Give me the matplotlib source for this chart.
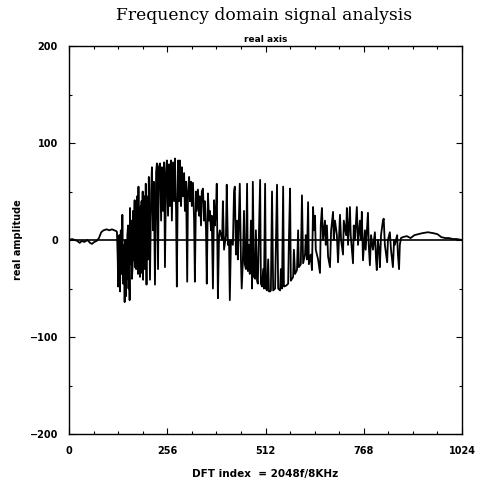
import matplotlib
matplotlib.use("Agg")
import matplotlib.pyplot as plt
from matplotlib.ticker import MultipleLocator

# ---- data (vertices) ----
dft_index = [
    0, 8, 15, 22, 28, 33, 40, 48, 55, 60, 66, 72, 78, 84, 90, 98, 105, 112, 118, 124,
    125, 127, 128, 129, 130, 131, 133, 134, 135, 136, 138, 139, 141, 142, 143, 145, 146, 147,
    148, 150, 151, 152, 154, 155, 156, 158, 159, 160, 162, 163, 164, 166, 167, 168, 169, 171,
    172, 174, 175, 176, 177, 179, 180, 181, 182, 184, 185, 187, 188, 189, 190, 192, 193, 194,
    195, 197, 198, 200, 201, 202, 203, 206, 208, 211, 214, 216,
    219, 221, 224, 227, 229, 232, 234, 237,
    240, 242, 245, 248, 250, 253, 255, 258, 261, 263, 266, 268, 271, 274, 276, 279, 281, 284,
    287, 289, 292, 294, 297, 300, 302, 305, 308, 310, 313, 315, 318, 320, 323, 326, 328, 331,
    333, 336, 339, 341, 344, 346, 349, 352, 354, 357, 359, 362, 365, 367, 370, 372, 375, 378,
    380, 383, 385, 388,
    391, 393, 399, 401, 404, 409, 411, 414, 417, 419, 422, 427, 430, 432, 435, 438, 440, 445,
    448, 450, 453, 456, 458, 461, 464, 466, 469, 471, 474, 477, 479, 482, 485, 487, 490, 492,
    498, 500, 503, 506, 508, 511, 513, 516, 519, 521, 524,
    526, 529, 532, 537, 542, 545, 550, 552, 555, 558, 560, 566, 571, 573, 576, 578, 584, 586,
    589, 594, 597, 599, 604, 607, 610, 615, 617, 620, 623, 625, 630, 633, 636, 638, 641, 643,
    649, 654, 656, 659, 662, 667, 669, 672, 675,
    680, 683, 688, 690, 693, 698, 701, 706, 709, 714, 716, 722, 724, 727, 732, 734, 740, 742,
    745, 750, 753, 758, 761, 763, 766, 771, 773, 779, 781, 784, 787, 792, 797, 800, 802, 805,
    808, 810, 813, 818, 820, 823, 829, 831, 836, 839, 844, 847, 849, 855, 857, 860, 862, 865,
    870, 880, 890, 900, 910, 920, 935, 950, 960, 970, 980, 990, 1000, 1010, 1024,
]
real_amplitude = [
    0, 1, 0, -1, -3, -1, -2, 0, -3, -4, -2, -1, 2, 8, 10, 11, 10, 11, 10, 9,
    8, -20, -48, 0, -40, 5, -53, -10, 10, -35, -20, 26, -45, -15, -5, -64, -30, 0,
    -58, -10, -40, 5, 15, -50, -5, -62, 33, -25, -10, 20, -40, -25, 30, -15, -21, 41,
    -28, 20, -30, -10, 45, -15, -35, 55, -20, 25, -38, 35, -34, 40, -10, 50, -41, 10,
    -20, 45, -30, 58, 0, -46, 45, -20, 65, -41, 50, 75,
    10, 60, -46, 70, 79, -30, 75, 79,
    20, 75, 30, 80, -28, 70, 82, 25, 78, 35, 82, 20, 80, 40, 84, 30, -48, 82,
    40, 82, 35, 75, 45, 69, 30, 60, -43, 50, 65, 40, 60, 35, 59, 20, -43, 50,
    30, 52, 25, 45, 15, 50, 53, 20, 40, 10, -45, 48, 20, 30, 10, 25, -50, 41,
    15, 31, 58, -60,
    5, 10, 0, 40, -10, 5, 57, -5, 0, -62, 0, -5, 50, 55, -15, 20, -20, 58,
    -20, -50, -22, 30, -25, -30, 58, -32, -5, -35, 20, -50, 60, -38, -40, 10, -42, -45,
    62, -45, -48, -30, -50, 58, -50, -52, -20, -53, -53,
    -52, 50, -52, -50, 57, -50, -52, -30, -50, 55, -48, -47, -45, 0, 53, -42, -38, -10,
    -35, -31, 10, -28, -25, 46, -24, -15, 5, -20, 39, -25, -15, -31, 34, 10, 25, -10,
    -20, -34, 15, 33, 0, 20, -5, 15, -17,
    -28, 10, 29, 0, 20, 5, -23, 26, 0, -15, 20, 5, 33, -5, 34, 5, -24, 15,
    0, 34, -5, 20, 0, 29, -21, 10, -10, 28, -5, -26, 5, -10, 8, -20, -31, 0,
    -10, -28, 5, 20, 22, -5, -23, 0, 8, -10, -28, 0, -5, 5, -15, -30, -5, 2,
    3, 4, 2, 5, 6, 7, 8, 7, 6, 3, 2, 2, 1, 1, 0,
]
x_ticks = [0, 256, 512, 768, 1024]
y_ticks = [-200, -100, 0, 100, 200]

fig = plt.figure(figsize=(4.78, 4.84), dpi=100)
ax = fig.add_axes([69 / 478, 1 - 434 / 484, (462 - 69) / 478, (434 - 46) / 484])

ax.plot(dft_index, real_amplitude, color="black", linewidth=1.3)
ax.axhline(0, color="black", linewidth=1.2)

ax.set_xlim(0, 1024)
ax.set_ylim(-200, 200)
ax.set_xticks(x_ticks)
ax.set_yticks(y_ticks)
ax.xaxis.set_minor_locator(MultipleLocator(64))
ax.yaxis.set_minor_locator(MultipleLocator(50))
ax.tick_params(which="both", direction="in", top=True, right=True, width=0.8, color="black")
ax.tick_params(which="major", length=4)
ax.tick_params(which="minor", length=2)
ax.tick_params(axis="y", labelsize=7, pad=8)
ax.tick_params(axis="x", labelsize=7, pad=9)
for lbl in ax.get_xticklabels() + ax.get_yticklabels():
    lbl.set_fontweight("bold")
for s in ax.spines.values():
    s.set_linewidth(1.0)
    s.set_color("black")

fig.text(0.553, 1 - 15 / 484, "Frequency domain signal analysis", ha="center", va="center",
         family="DejaVu Serif", fontsize=12.3)
ax.set_title("real axis", fontsize=6.5, fontweight="bold", pad=3)
ax.set_xlabel("DFT index  = 2048f/8KHz", fontsize=7.5, fontweight="bold", labelpad=9)
ax.set_ylabel("real amplitude", fontsize=7, fontweight="bold", labelpad=5)

fig.savefig("out.png", dpi=100)
